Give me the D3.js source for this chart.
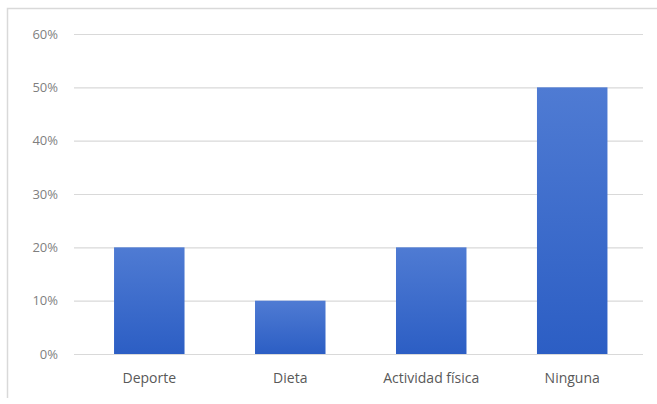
<!DOCTYPE html>
<html>
<head>
<meta charset="utf-8">
<script src="https://cdn.jsdelivr.net/npm/d3@7"></script>
<style>
  body { margin: 0; background: #fff; }
  svg { display: block; font-family: "Open Sans", "DejaVu Sans", sans-serif; }
</style>
</head>
<body>
<div id="chart"></div>
<script>
const categories = ["Deporte", "Dieta", "Actividad física", "Ninguna"];
const values = [0.20, 0.10, 0.20, 0.50];
const yTicks = [0, 0.1, 0.2, 0.3, 0.4, 0.5, 0.6];

const width = 657, height = 404;
const margin = {top: 34, left: 74, bottom: 50, right: 9.5};
const gridRight = 643;

const svg = d3.select("#chart").append("svg")
    .attr("width", width)
    .attr("height", height);

// chart frame (partially cropped in the picture)
svg.append("path")
    .attr("d", `M7.5,${height - 6} V8.5 H${width}`)
    .attr("fill", "none")
    .attr("stroke", "#d9d9d9")
    .attr("stroke-width", 1.5);

const x = d3.scaleBand()
    .domain(categories)
    .range([margin.left, width - margin.right])
    .paddingInner(0.5)
    .paddingOuter(0.284);

const y = d3.scaleLinear()
    .domain([0, 0.6])
    .range([height - margin.bottom, margin.top]);

const defs = svg.append("defs");
const grad = defs.append("linearGradient")
    .attr("id", "barGrad")
    .attr("x1", 0).attr("y1", 0).attr("x2", 0).attr("y2", 1);
grad.append("stop").attr("offset", "0%").attr("stop-color", "#4f7bd3");
grad.append("stop").attr("offset", "100%").attr("stop-color", "#2c5ec4");

// gridlines + y tick labels
const yAxis = d3.axisLeft(y)
    .tickValues(yTicks)
    .tickFormat(d3.format(".0%"))
    .tickSize(-(gridRight - margin.left))
    .tickPadding(16);

svg.append("g")
    .attr("transform", `translate(${margin.left},0)`)
    .call(yAxis)
    .call(g => g.select(".domain").remove())
    .call(g => g.selectAll(".tick line").attr("stroke", "#d9d9d9").attr("stroke-width", 1.2))
    .call(g => g.selectAll(".tick text")
        .attr("fill", "#7f7f7f")
        .attr("font-size", 13)
        .attr("font-family", "\"Open Sans\", sans-serif"));

// bars
svg.append("g")
    .selectAll("rect")
    .data(values)
    .join("rect")
    .attr("x", (d, i) => x(categories[i]))
    .attr("y", d => y(d))
    .attr("width", x.bandwidth())
    .attr("height", d => y(0) - y(d))
    .attr("fill", "url(#barGrad)");

// x labels
const xAxis = d3.axisBottom(x).tickSize(0).tickPadding(19);
svg.append("g")
    .attr("transform", `translate(0,${y(0)})`)
    .call(xAxis)
    .call(g => g.select(".domain").remove())
    .call(g => g.selectAll(".tick text")
        .attr("fill", "#595959")
        .attr("font-size", 14)
        .attr("font-family", "\"Open Sans\", sans-serif"));
</script>
</body>
</html>
